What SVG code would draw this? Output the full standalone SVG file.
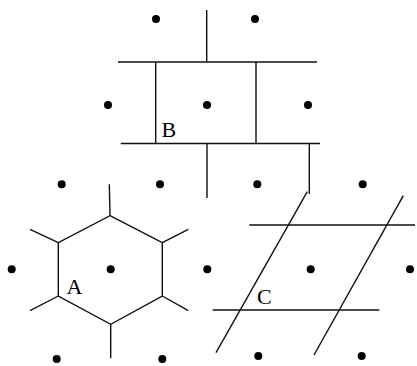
<svg xmlns="http://www.w3.org/2000/svg" width="417" height="366" viewBox="0 0 417 366">
<style>
.bg{fill:#fff}
.ln{stroke:#111;stroke-width:1.4;fill:none;stroke-linecap:butt}
.dot{fill:#000}
.lbl{font-family:"Liberation Serif","Times New Roman",serif;font-size:22px;fill:#000}
</style>
<rect class="bg" x="0" y="0" width="417" height="366"/>
<g id="connectors">
<!-- B: rectangular cell -->
<line class="ln" x1="206.7" y1="10" x2="206.7" y2="62"/>
<line class="ln" x1="118" y1="62" x2="317" y2="62"/>
<line class="ln" x1="155.7" y1="62" x2="155.7" y2="143.5"/>
<line class="ln" x1="256" y1="62" x2="256" y2="143.5"/>
<line class="ln" x1="120.7" y1="143.5" x2="320" y2="143.5"/>
<line class="ln" x1="207" y1="143.5" x2="207" y2="198"/>
<line class="ln" x1="309.3" y1="143.5" x2="309.3" y2="194"/>
<!-- A: hexagonal cell -->
<polygon class="ln" points="110,215.7 162.3,242.7 162.3,296 110.7,324.3 58.3,296 58.3,242.7"/>
<line class="ln" x1="110" y1="215.7" x2="109.3" y2="184.3"/>
<line class="ln" x1="162.3" y1="242.7" x2="188.3" y2="229.3"/>
<line class="ln" x1="162.3" y1="296" x2="188.3" y2="310.7"/>
<line class="ln" x1="110.7" y1="324.3" x2="110.7" y2="358.3"/>
<line class="ln" x1="58.3" y1="296" x2="30" y2="310.7"/>
<line class="ln" x1="58.3" y1="242.7" x2="30" y2="229.3"/>
<!-- C: oblique cell -->
<line class="ln" x1="307.3" y1="191.7" x2="216" y2="352.7"/>
<line class="ln" x1="403.3" y1="195.7" x2="314" y2="355"/>
<line class="ln" x1="249.3" y1="225" x2="415" y2="225"/>
<line class="ln" x1="212.7" y1="310" x2="379.3" y2="310"/>
</g>
<g id="dots">
<circle class="dot" cx="156" cy="19" r="4"/>
<circle class="dot" cx="255" cy="19" r="4"/>
<circle class="dot" cx="108" cy="105" r="4"/>
<circle class="dot" cx="207" cy="105" r="4"/>
<circle class="dot" cx="308" cy="105" r="4"/>
<circle class="dot" cx="61.7" cy="184.3" r="4"/>
<circle class="dot" cx="160" cy="184.3" r="4"/>
<circle class="dot" cx="257.3" cy="184.3" r="4"/>
<circle class="dot" cx="362.7" cy="184.3" r="4"/>
<circle class="dot" cx="11.7" cy="269.3" r="4"/>
<circle class="dot" cx="110.7" cy="269.3" r="4"/>
<circle class="dot" cx="207.3" cy="269.3" r="4"/>
<circle class="dot" cx="310.7" cy="269.3" r="4"/>
<circle class="dot" cx="410" cy="269.3" r="4"/>
<circle class="dot" cx="56.7" cy="359" r="4"/>
<circle class="dot" cx="162.3" cy="359" r="4"/>
<circle class="dot" cx="258.3" cy="356" r="4"/>
<circle class="dot" cx="361.7" cy="356" r="4"/>
</g>
<g id="node-A"><text class="lbl" x="66.5" y="294">A</text></g>
<g id="node-B"><text class="lbl" x="161.5" y="136.7">B</text></g>
<g id="node-C"><text class="lbl" x="257" y="303.5">C</text></g>
</svg>
